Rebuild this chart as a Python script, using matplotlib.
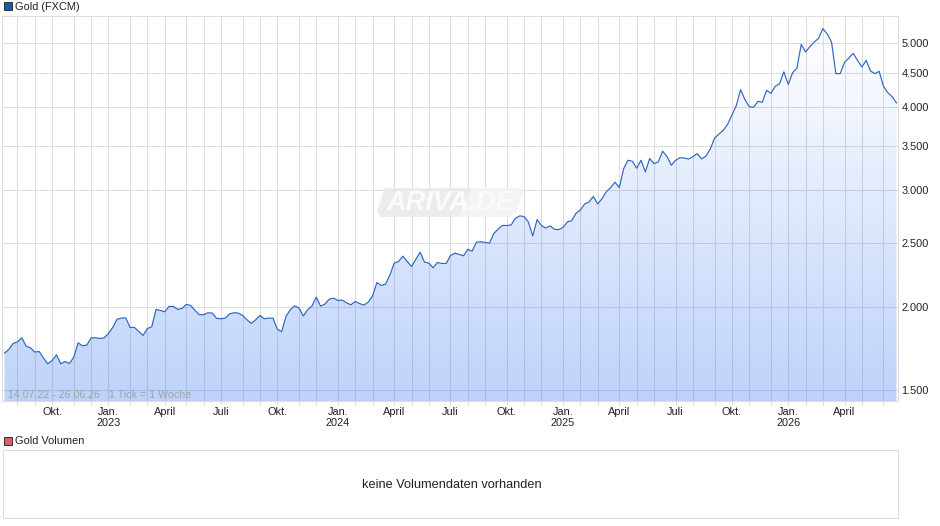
import numpy as np
import pandas as pd
import matplotlib
matplotlib.use("Agg")
import matplotlib.pyplot as plt
from matplotlib.patches import Polygon, Rectangle
from matplotlib.ticker import FixedLocator, NullLocator

plt.rcParams['font.family'] = ['Liberation Sans', 'DejaVu Sans']

W, H = 940, 526
FS = 11 * 0.72

first_week = '2022-07-17'
gold_close = [
    1705, 1727, 1763, 1773, 1798, 1747, 1737, 1711, 1715, 1676, 1643, 1662, 1695, 1643, 1656, 1645, 1681, 1767, 1749, 1753,
    1798, 1798, 1794, 1798, 1825, 1864, 1918, 1925, 1927, 1864, 1864, 1838, 1813, 1857, 1868, 1984, 1977, 1968, 2005, 2005,
    1984, 1991, 2019, 2012, 1977, 1948, 1948, 1961, 1959, 1923, 1921, 1925, 1954, 1961, 1959, 1943, 1914, 1890, 1914, 1943,
    1921, 1925, 1925, 1853, 1836, 1936, 1982, 2009, 1995, 1939, 1982, 2007, 2071, 2007, 2021, 2056, 2063, 2047, 2049, 2030,
    2016, 2040, 2025, 2014, 2035, 2080, 2178, 2156, 2166, 2235, 2330, 2343, 2387, 2343, 2303, 2360, 2420, 2338, 2330, 2292,
    2335, 2327, 2327, 2392, 2412, 2401, 2390, 2443, 2429, 2506, 2509, 2503, 2497, 2582, 2621, 2655, 2655, 2659, 2722, 2745,
    2738, 2685, 2560, 2710, 2654, 2632, 2651, 2620, 2617, 2638, 2688, 2700, 2770, 2802, 2861, 2881, 2935, 2861, 2914, 2986,
    3028, 3085, 3028, 3234, 3329, 3318, 3238, 3329, 3197, 3349, 3291, 3310, 3435, 3372, 3272, 3329, 3358, 3355, 3343, 3371,
    3406, 3344, 3378, 3462, 3596, 3646, 3693, 3771, 3895, 4023, 4253, 4108, 4009, 4000, 4084, 4070, 4243, 4199, 4302, 4342,
    4525, 4330, 4508, 4580, 4977, 4846, 4936, 5017, 5081, 5255, 5159, 5017, 4496, 4496, 4675, 4746, 4824, 4708, 4600, 4708,
    4537, 4496, 4532, 4302, 4208, 4150, 4061,
]
price_ticks = [1500, 2000, 2500, 3000, 3500, 4000, 4500, 5000]
price_labels = ['1.500', '2.000', '2.500', '3.000', '3.500', '4.000', '4.500', '5.000']
quarter_names = {1: 'Jan.', 4: 'April', 7: 'Juli', 10: 'Okt.'}

dates = pd.date_range(first_week, periods=len(gold_close), freq='7D')
weeks = np.arange(len(gold_close))
values = np.array(gold_close, dtype=float)

month_ticks, month_labels = [], []
for i in range(1, len(dates)):
    if dates[i].month != dates[i - 1].month:
        month_ticks.append(i)
        m = dates[i].month
        lab = quarter_names.get(m, '')
        if m == 1:
            lab += f'\n{dates[i].year}'
        month_labels.append(lab)


def fx(x):
    return x / W


def fy(y):
    return 1 - y / H


fig = plt.figure(figsize=(W / 100, H / 100), dpi=100, facecolor='white')
L, R, T, B = 2, 898, 16, 401
XLIM = (-0.577, 206.35)
YLIM = (1444, 5491)
ax = fig.add_axes([fx(L), fy(B), (R - L) / W, (B - T) / H])
ax.set_yscale('log')
ax.set_xlim(*XLIM)
ax.set_ylim(*YLIM)
ax.set_facecolor('white')
ax.set_axisbelow(True)

GRID = '#DDDDDD'
LW = 0.75
ax.xaxis.set_major_locator(FixedLocator(month_ticks))
ax.set_xticklabels(month_labels, fontsize=FS, color='#222222', linespacing=1.2)
ax.yaxis.set_major_locator(FixedLocator(price_ticks))
ax.yaxis.set_minor_locator(NullLocator())
ax.set_yticklabels(price_labels, fontsize=FS, color='#222222')
ax.yaxis.tick_right()
ax.grid(True, color=GRID, lw=LW)
ax.tick_params(axis='x', length=3, width=LW, color=GRID, pad=1)
ax.tick_params(axis='y', length=0, pad=2.5)
for s in ax.spines.values():
    s.set_color(GRID)
    s.set_linewidth(LW)

# gradient area under the curve
n = 256
rgba = np.zeros((n, 1, 4))
rgba[..., 0] = 60 / 255
rgba[..., 1] = 120 / 255
rgba[..., 2] = 240 / 255
rgba[:, 0, 3] = np.linspace(0.0, 0.335, n)
img = ax.imshow(rgba, extent=[0, 1, 0.0, 0.97], transform=ax.transAxes, origin='upper',
                aspect='auto', zorder=1.5, interpolation='bilinear')
ax.set_xlim(*XLIM)
ax.set_ylim(*YLIM)
poly_x = np.r_[weeks, weeks[-1], weeks[0]]
poly_y = np.r_[values, YLIM[0], YLIM[0]]
poly = Polygon(np.c_[poly_x, poly_y], closed=True, transform=ax.transData, fc='none', ec='none')
ax.add_patch(poly)
img.set_clip_path(poly)

ax.plot(weeks, values, color='#2F66C2', lw=0.85, zorder=3, solid_joinstyle='round')

ax.text(fx(8), fy(395), '14.07.22 - 26.06.26   1 Tick = 1 Woche', transform=fig.transFigure,
        fontsize=FS * 0.97, color='#A3A3A3', va='center', ha='left', zorder=5)

# watermark
fig.add_artist(Polygon([[fx(385), fy(188)], [fx(472), fy(188)], [fx(459), fy(217)], [fx(381), fy(217)], [fx(377), fy(211)]],
                       closed=True, transform=fig.transFigure, fc='#E9E9E9', ec='none', alpha=0.85, zorder=4))
fig.add_artist(Polygon([[fx(472), fy(188)], [fx(521), fy(188)], [fx(524), fy(192)], [fx(516), fy(213)], [fx(511), fy(217)], [fx(459), fy(217)]],
                       closed=True, transform=fig.transFigure, fc='#F3F3F3', ec='none', alpha=0.85, zorder=4))
fig.text(fx(450), fy(203), 'ARIVA.DE', fontsize=19.5, fontweight='bold', fontstyle='italic',
         color='#FBFBFB', ha='center', va='center', zorder=5)


# legends
def swatch(y, face):
    fig.add_artist(Rectangle((fx(3.5), fy(y + 4.5)), 8 / W, 8 / H, transform=fig.transFigure,
                             fc=face, ec='#333333', lw=0.7))


swatch(5.5, '#1C55B5')
fig.text(fx(15), fy(6.8), 'Gold (FXCM)', fontsize=FS, color='#222222', va='center', ha='left')
swatch(440, '#D96060')
fig.text(fx(15), fy(441.3), 'Gold Volumen', fontsize=FS, color='#222222', va='center', ha='left')

# volume panel
fig.add_artist(Rectangle((fx(2.5), fy(517.5)), 895.5 / W, 68 / H, transform=fig.transFigure,
                         fc='white', ec=GRID, lw=LW))
fig.text(fx(451.5), fy(485), 'keine Volumendaten vorhanden', fontsize=12.7 * 0.72, color='#222222',
         va='center', ha='center')

fig.savefig('out.png', dpi=100, facecolor='white')
